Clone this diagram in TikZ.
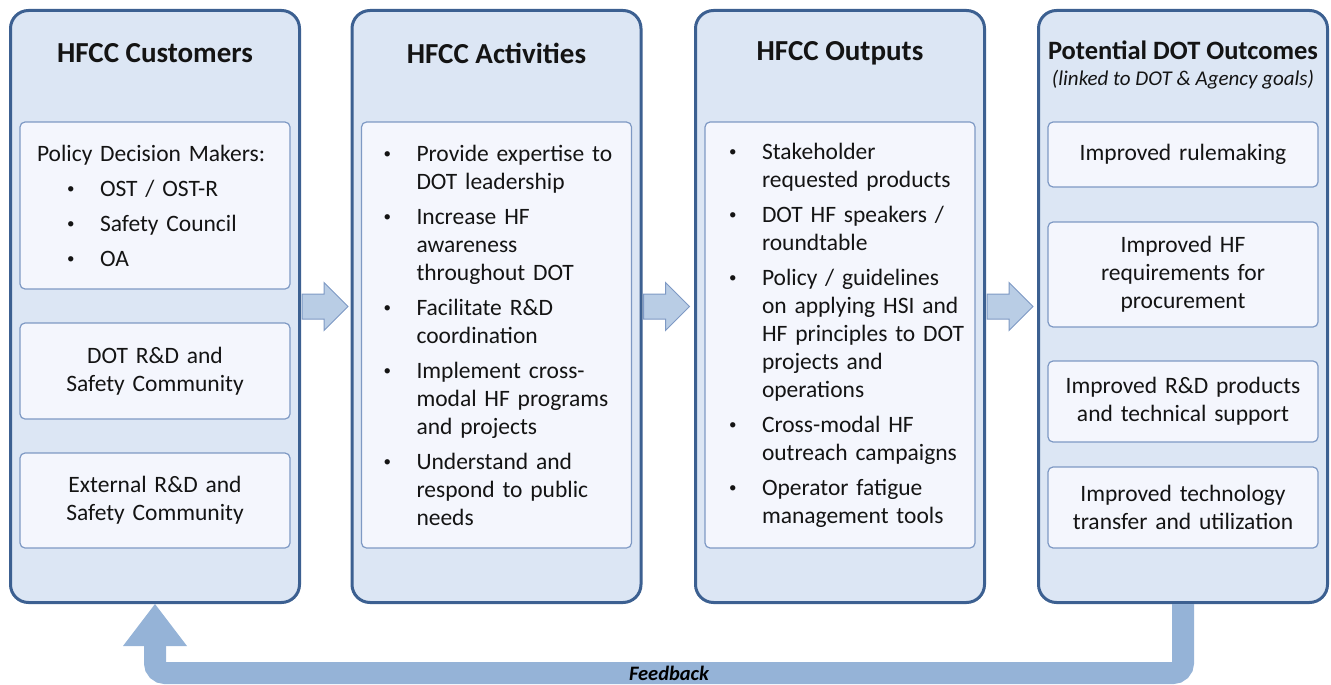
\documentclass[tikz,border=0pt]{standalone}
\usepackage{fontspec}
\setmainfont{Carlito}
\usetikzlibrary{arrows.meta,calc}

\definecolor{colfill}{RGB}{220,230,244}
\definecolor{colborder}{RGB}{60,96,145}
\definecolor{boxfill}{RGB}{244,246,253}
\definecolor{boxborder}{RGB}{126,153,196}
\definecolor{arrfill}{RGB}{185,205,229}
\definecolor{fbcolor}{RGB}{149,179,215}
\definecolor{txt}{RGB}{20,20,20}

\newcommand{\bodyfont}{\fontsize{23.5}{28}\selectfont}
% malá odrážka
\newcommand{\dotmark}{\raisebox{2.5pt}{\fontsize{15}{15}\selectfont\textbullet}}
% odrážka s visící mezerou
\newcommand{\itm}[2][0pt]{\noindent\hangindent=\dimexpr#1+33pt\relax\hangafter=1\hspace*{#1}\makebox[33pt][l]{\dotmark}#2\par}
% bloková šipka mezi sloupci
\newcommand{\blockarr}[1]{\draw[blockarrow] ($(#1.east)+(1,-12.5)$) -- ++(22,0) -- ++(0,-11.5) -- ++(24,24) -- ++(-24,24) -- ++(0,-11.5) -- ++(-22,0) -- cycle;}

\tikzset{
  column/.style={draw=colborder, fill=colfill, line width=3pt, rounded corners=18pt,
    minimum width=289pt, minimum height=592pt},
  title/.style={font=\fontsize{29}{34}\selectfont\bfseries, text=txt},
  inbox/.style={draw=boxborder, fill=boxfill, line width=1.2pt, rounded corners=5pt,
    minimum width=270pt, font=\bodyfont, text=txt},
  listbox/.style={inbox, inner xsep=5pt, text width=260pt},
  midbox/.style={inbox, align=center, text width=260pt},
  blockarrow/.style={draw=boxborder, fill=arrfill, line width=1pt, line join=miter},
  feedback/.style={draw=fbcolor, line width=22pt, rounded corners=10pt,
    -{Triangle[length=42pt,width=64pt,line width=0pt]}}
}

\begin{document}
\begin{tikzpicture}[x=1pt,y=-1pt]
\useasboundingbox (0,0) rectangle (1331,685);
% Sloupce
\node[column] (cust) at (155,306.5) {};
\node[column] (activ) at (496.5,306.5) {};
\node[column] (outp) at (840,306.5) {};
\node[column] (outc) at (1183,306.5) {};
% Zpětná vazba
\draw[feedback] (outc.south) -- ++(0,69) -| node[pos=0.25, font=\fontsize{20.5}{24}\selectfont\bfseries\itshape, text=black] (fbT) {Feedback} (cust.south);
% Nadpisy
\node[title] (custT) at (155,53) {HFCC Customers};
\node[title] (activT) at (496.5,53) {HFCC Activities};
\node[title] (outpT) at (840,53) {HFCC Outputs};
\node[title, font=\fontsize{26.5}{30}\selectfont\bfseries] (outcT) at (1183,50) {Potential DOT Outcomes};
\node[text=txt, font=\fontsize{21}{24}\selectfont\itshape] (outcS) at (1183,80) {(linked to DOT \& Agency goals)};
% Zákazníci
\node[listbox, inner xsep=17pt, text width=236pt, minimum height=167pt] (makers) at (155,205.5)
  {\setlength{\parskip}{7pt}\noindent Policy Decision Makers:\par
   \itm[30pt]{OST / OST-R}\itm[30pt]{Safety Council}\itm[30pt]{OA}};
\node[midbox, minimum height=96pt] (dotrd) at (155,371) {DOT R\&D and\\Safety Community};
\node[midbox, minimum height=95pt] (extrd) at (155,500.5) {External R\&D and\\Safety Community};
% Činnosti
\node[listbox, minimum height=426pt] (actlist) at (496.5,335)
  {\setlength{\parskip}{7pt}\hyphenpenalty=10000%
   \itm[17pt]{Provide expertise to\newline DOT leadership}
   \itm[17pt]{Increase HF\newline awareness\newline throughout DOT}
   \itm[17pt]{Facilitate R\&D\newline coordination}
   \itm[17pt]{Implement cross-\newline modal HF programs\newline and projects}
   \itm[17pt]{Understand and\newline respond to public\newline needs}};
% Výstupy
\node[listbox, minimum height=426pt] (outlist) at (840,335)
  {\setlength{\parskip}{7pt}\hyphenpenalty=10000%
   \itm[19pt]{Stakeholder\newline requested products}
   \itm[19pt]{DOT HF speakers /\newline roundtable}
   \itm[19pt]{Policy / guidelines\newline on applying HSI and\newline HF principles to DOT\newline projects and\newline operations}
   \itm[19pt]{Cross-modal HF\newline outreach campaigns}
   \itm[19pt]{Operator fatigue\newline management tools}};
% Výsledky
\node[midbox, minimum height=65pt] (rules) at (1183,154.5) {Improved rulemaking};
\node[midbox, minimum height=105pt] (procure) at (1183,274.5) {Improved HF\\requirements for\\procurement};
\node[midbox, minimum height=81pt] (rdprod) at (1183,401.5) {Improved R\&D products\\and technical support};
\node[midbox, minimum height=81pt] (techtr) at (1183,507.5) {Improved technology\\transfer and utilization};
% Šipky
\blockarr{cust}
\blockarr{activ}
\blockarr{outp}
\end{tikzpicture}
\end{document}
